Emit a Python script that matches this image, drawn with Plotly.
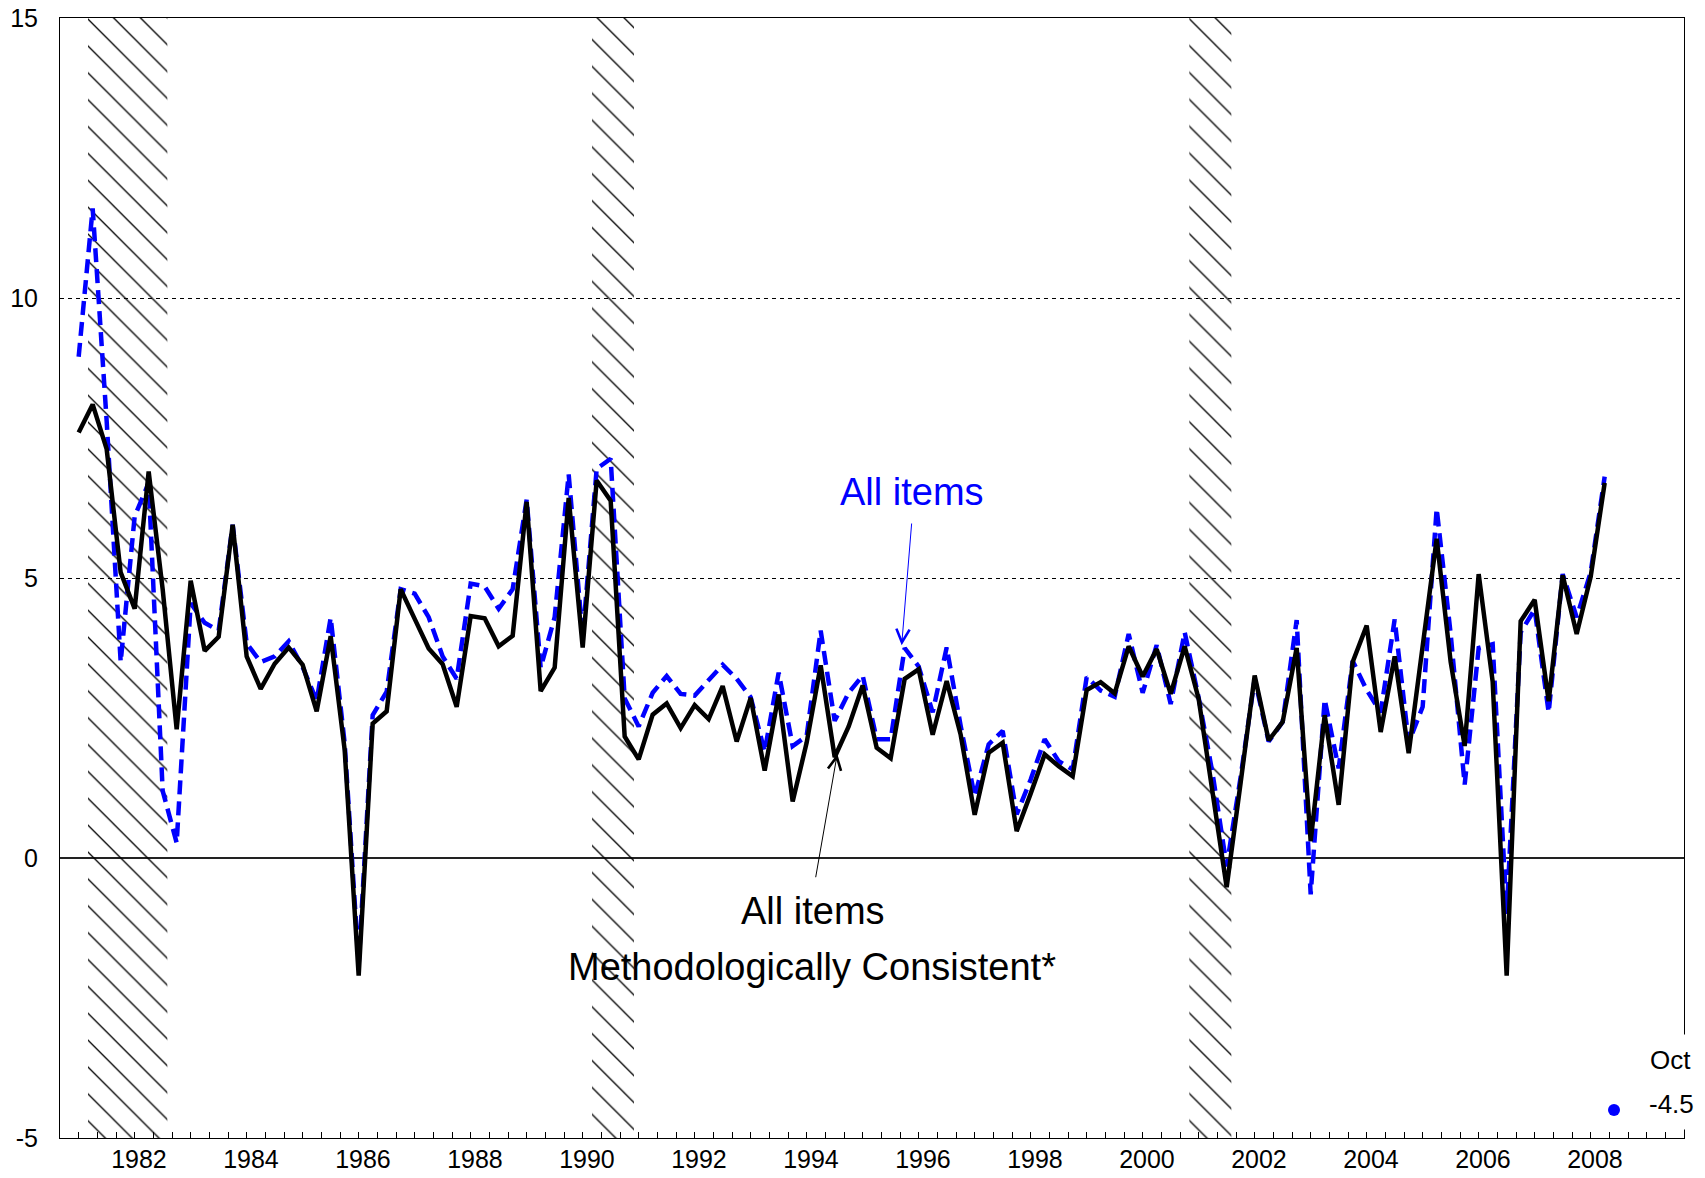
import plotly.graph_objects as go
import pandas as pd

# ---------------- data ----------------
start_quarter = "1981Q2"
end_quarter = "2008Q3"

methodologically_consistent = [
    7.6, 8.1, 7.3, 5.1, 4.45, 6.9, 4.8, 2.3, 4.95, 3.7,
    3.95, 5.95, 3.6, 3.02, 3.47, 3.76, 3.45, 2.62, 3.96, 1.93,
    -2.1, 2.4, 2.62, 4.8, 4.27, 3.74, 3.46, 2.7, 4.32, 4.28,
    3.78, 3.97, 6.36, 2.98, 3.4, 6.43, 3.76, 6.74, 6.38, 2.17,
    1.76, 2.56, 2.76, 2.32, 2.73, 2.48, 3.07, 2.08, 2.86, 1.56,
    2.92, 1.01, 2.06, 3.44, 1.8, 2.35, 3.08, 1.97, 1.78, 3.2,
    3.37, 2.2, 3.16, 2.2, 0.77, 1.88, 2.06, 0.48, 1.15, 1.85,
    1.64, 1.46, 3.0, 3.14, 2.94, 3.78, 3.24, 3.73, 2.93, 3.78,
    2.84, 1.2, -0.52, 1.35, 3.26, 2.1, 2.43, 3.75, 0.3, 2.55,
    0.95, 3.5, 4.15, 2.25, 3.6, 1.87, 3.8, 5.7, 3.5, 2.0,
    5.07, 3.15, -2.1, 4.23, 4.61, 2.8, 5.05, 4.0, 5.02, 6.7,
]

all_items = [
    8.95, 11.6, 7.8, 3.5, 6.1, 6.7, 1.2, 0.27, 4.55, 4.2,
    4.06, 5.95, 3.83, 3.5, 3.6, 3.87, 3.41, 2.81, 4.29, 2.05,
    -1.9, 2.55, 2.97, 4.8, 4.72, 4.3, 3.6, 3.2, 4.9, 4.85,
    4.45, 4.8, 6.4, 3.4, 4.3, 6.85, 3.95, 6.95, 7.13, 2.85,
    2.35, 2.95, 3.25, 2.93, 2.9, 3.17, 3.45, 3.2, 2.87, 1.9,
    3.31, 2.0, 2.18, 4.06, 2.45, 2.95, 3.26, 2.12, 2.12, 3.75,
    3.42, 2.6, 3.76, 2.36, 1.1, 2.03, 2.27, 0.78, 1.4, 2.12,
    1.73, 1.58, 3.23, 2.99, 2.88, 4.0, 2.95, 3.8, 2.75, 4.03,
    2.86, 1.5, -0.15, 1.45, 3.2, 2.08, 2.43, 4.25, -0.65, 2.83,
    1.6, 3.52, 3.0, 2.6, 4.26, 2.06, 2.7, 6.24, 4.0, 1.31,
    3.75, 3.82, -1.0, 4.03, 4.44, 2.6, 5.07, 4.3, 5.1, 6.81,
]

recession_start = ["1981-07", "1990-07", "2001-03"]
recession_end = ["1982-11", "1991-03", "2001-11"]

latest_month = "2008-10"
latest_label = "Oct"
latest_value = -4.5

label_years = list(range(1982, 2009, 2))
y_ticks = [-5, 0, 5, 10, 15]
axis_start, axis_end = 1981, 2010

# ---------------- helpers ----------------
quarters = pd.period_range(start_quarter, end_quarter, freq="Q")
# each quarter plotted at the start of its middle month
x_q = [q.year + (3 * q.quarter - 2) / 12 for q in quarters]


def month_start(s):
    p = pd.Period(s, freq="M")
    return p.year + (p.month - 1) / 12


def month_end(s):
    p = pd.Period(s, freq="M")
    return p.year + p.month / 12


# small tick marks every four months along the time axis
small_tick_vals = [axis_start + k / 3 for k in range(1, (axis_end - axis_start) * 3)]

FONT = "Liberation Sans, Arial, sans-serif"
fig = go.Figure()

# recession hatching
for s, e in zip(recession_start, recession_end):
    x0, x1 = month_start(s), month_end(e)
    fig.add_trace(go.Scatter(
        x=[x0, x1, x1, x0, x0], y=[-5, -5, 15, 15, -5],
        mode="lines", line=dict(width=0), fill="toself",
        fillcolor="rgba(0,0,0,0)",
        fillpattern=dict(shape="\\", size=19, solidity=0.07,
                         fgcolor="black", fgopacity=1,
                         bgcolor="rgba(0,0,0,0)", fillmode="overlay"),
        hoverinfo="skip", showlegend=False))

fig.add_trace(go.Scatter(
    x=x_q, y=all_items, mode="lines",
    line=dict(color="#0000FF", width=4.5, dash="14px,7px"),
    showlegend=False, name="All items"))

fig.add_trace(go.Scatter(
    x=x_q, y=methodologically_consistent, mode="lines",
    line=dict(color="black", width=4.5),
    showlegend=False, name="All items Methodologically Consistent*"))

# latest monthly value (on the label axis, which shares the same range)
fig.add_trace(go.Scatter(
    x=[month_start(latest_month)], y=[latest_value], mode="markers",
    marker=dict(color="#0000FF", size=12), xaxis="x2", yaxis="y",
    showlegend=False))

fig.update_layout(
    width=1705, height=1178,
    margin=dict(l=60, r=21, t=18, b=40, pad=0),
    plot_bgcolor="white", paper_bgcolor="white",
    font=dict(family=FONT, size=25, color="black"),
    xaxis=dict(
        range=[axis_start, axis_end], showline=True, linecolor="black",
        linewidth=1, mirror=True, showgrid=False, zeroline=False,
        automargin=False, tickmode="array", tickvals=small_tick_vals,
        showticklabels=False, ticks="inside", ticklen=6, tickwidth=1.2,
        tickcolor="black",
    ),
    xaxis2=dict(
        range=[axis_start, axis_end], overlaying="x", anchor="y",
        side="bottom", showline=False, showgrid=False, zeroline=False,
        automargin=False, tickmode="array",
        tickvals=[y + 0.41 for y in label_years],
        ticktext=[str(y) for y in label_years], ticks="",
        ticklabeloverflow="allow", ticklabelstandoff=4,
        tickfont=dict(size=25, family=FONT, color="black"),
    ),
    yaxis=dict(
        range=[-5, 15], showline=True, linecolor="black", linewidth=1,
        mirror=True, tickmode="array", tickvals=y_ticks,
        ticktext=[str(v) for v in y_ticks], ticks="", automargin=False,
        ticklabeloverflow="allow",
        showgrid=True, gridcolor="black", gridwidth=1, griddash="4px,4px",
        zeroline=True, zerolinecolor="#222222", zerolinewidth=1.5,
        tickfont=dict(size=25, family=FONT, color="black"),
        ticklabelstandoff=16,
    ),
)

# white box interrupting the right frame behind the latest-value label
fig.add_shape(type="rect", xref="paper", yref="y", x0=0.985, x1=1.012,
              y0=-4.85, y1=-3.15, fillcolor="white", line=dict(width=0),
              layer="above")

# annotations
fig.add_annotation(x=1996.21, y=6.53, text="All items", showarrow=False,
                   font=dict(size=38, color="#0000FF", family=FONT))
fig.add_annotation(x=1996.03, y=3.8, ax=1996.21, ay=6.0, axref="x", ayref="y",
                   text="", showarrow=True, arrowhead=5, arrowsize=2.6,
                   arrowwidth=1, arrowcolor="#0000FF")

fig.add_annotation(x=1994.45, y=-0.95, text="All items", showarrow=False,
                   font=dict(size=38, color="black", family=FONT))
fig.add_annotation(x=1994.43, y=-1.95, text="Methodologically Consistent*",
                   showarrow=False, font=dict(size=38, color="black", family=FONT))
fig.add_annotation(x=1994.88, y=1.86, ax=1994.49, ay=-0.37, axref="x", ayref="y",
                   text="", showarrow=True, arrowhead=5, arrowsize=2.6,
                   arrowwidth=1, arrowcolor="black")

fig.add_annotation(xref="paper", x=1.0053, y=-3.6, xanchor="right",
                   text=latest_label, showarrow=False,
                   font=dict(size=26, color="black", family=FONT))
fig.add_annotation(xref="paper", x=1.0071, y=-4.4, xanchor="right",
                   text=f"{latest_value}", showarrow=False,
                   font=dict(size=26, color="black", family=FONT))

# remove the browser's default page margin so the figure fills the window
fig.write_html("out.html",
               config={"displayModeBar": False},
               post_script="document.body.style.margin='0';"
                           "document.body.style.overflow='hidden';")
